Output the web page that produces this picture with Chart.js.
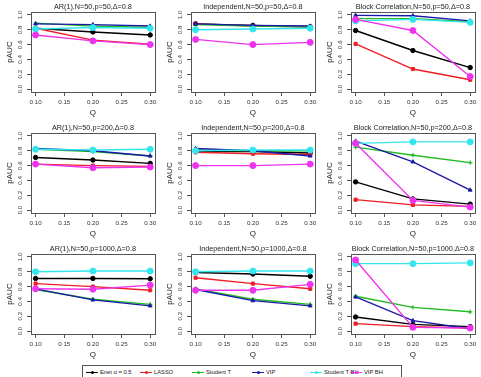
<!DOCTYPE html>
<html>
<head>
<meta charset="utf-8">
<script src="https://cdn.jsdelivr.net/npm/chart.js@4.4.1/dist/chart.umd.min.js"></script>
<style>
  html, body { margin: 0; padding: 0; background: #fff; }
  body { width: 481px; height: 377px; position: relative; overflow: hidden; font-family: "Liberation Sans", Arial, sans-serif; }
  canvas.panel { position: absolute; }
  #legend { position: absolute; left: 82px; top: 365px; width: 320px; height: 16px; border: 1px solid #555; box-sizing: border-box; }
  .item { position: absolute; top: 3px; font-size: 5.8px; color: #222; line-height: 7px; white-space: nowrap; }
  .sym { position: absolute; left: -14px; top: 0; width: 12px; height: 7px; }
  .sym .ln { position: absolute; left: 0; right: 0; top: 3px; height: 1px; }
  .sym .pt { position: absolute; left: 4.5px; top: 1.5px; width: 3.5px; height: 3.5px; border-radius: 50%; }
</style>
</head>
<body>
<div id="legend"></div>
<script>
// x values and ticks
const Q = [0.10, 0.20, 0.30];
const Q_TICKS = [0.10, 0.15, 0.20, 0.25, 0.30];
const PAUC_TICKS = [0.0, 0.2, 0.4, 0.6, 0.8, 1.0];

const METHODS = ['Enet \u03b1 = 0.5', 'LASSO', 'Student T', 'VIP', 'Student T BH', 'VIP BH'];
const COLORS = ['#000000', '#ee1c24', '#22bb22', '#1a1aa8', '#33e6ee', '#ee33ee'];
const STYLES = ['circle', 'rect', 'cross', 'triangle', 'circle', 'circle'];

// panels, row by row
const TITLES = [
    'AR(1),N=50,p=50,\u0394=0.8', 'Independent,N=50,p=50,\u0394=0.8', 'Block Correlation,N=50,p=50,\u0394=0.8',
    'AR(1),N=50,p=200,\u0394=0.8', 'Independent,N=50,p=200,\u0394=0.8', 'Block Correlation,N=50,p=200,\u0394=0.8',
    'AR(1),N=50,p=1000,\u0394=0.8', 'Independent,N=50,p=1000,\u0394=0.8', 'Block Correlation,N=50,p=1000,\u0394=0.8'
];

// pAUC per method, one [Q=0.1, 0.2, 0.3] triple per panel
const enet = [
    [0.82, 0.77, 0.73], [0.88, 0.86, 0.84], [0.79, 0.52, 0.29],
    [0.71, 0.675, 0.63], [0.79, 0.79, 0.77], [0.38, 0.15, 0.08],
    [0.71, 0.71, 0.705], [0.79, 0.77, 0.74], [0.19, 0.09, 0.06]
];
const lasso = [
    [0.82, 0.66, 0.605], [0.88, 0.85, 0.84], [0.61, 0.27, 0.125],
    [0.62, 0.60, 0.59], [0.78, 0.76, 0.75], [0.14, 0.07, 0.05],
    [0.64, 0.60, 0.55], [0.72, 0.64, 0.57], [0.10, 0.06, 0.04]
];
const studentT = [
    [0.89, 0.85, 0.83], [0.87, 0.85, 0.84], [0.95, 0.95, 0.91],
    [0.82, 0.79, 0.73], [0.81, 0.80, 0.80], [0.85, 0.74, 0.64],
    [0.56, 0.43, 0.36], [0.57, 0.43, 0.36], [0.47, 0.32, 0.26]
];
const vip = [
    [0.88, 0.87, 0.85], [0.88, 0.86, 0.85], [0.995, 0.99, 0.92],
    [0.83, 0.80, 0.73], [0.83, 0.80, 0.73], [0.93, 0.65, 0.27],
    [0.57, 0.42, 0.34], [0.56, 0.41, 0.34], [0.46, 0.14, 0.03]
];
const studentTBH = [
    [0.81, 0.83, 0.82], [0.80, 0.81, 0.82], [0.92, 0.94, 0.90],
    [0.82, 0.81, 0.82], [0.80, 0.81, 0.81], [0.90, 0.92, 0.92],
    [0.80, 0.81, 0.81], [0.80, 0.81, 0.81], [0.91, 0.91, 0.92]
];
const vipBH = [
    [0.73, 0.65, 0.60], [0.67, 0.60, 0.63], [0.94, 0.79, 0.17],
    [0.62, 0.57, 0.58], [0.60, 0.60, 0.62], [0.90, 0.13, 0.04],
    [0.57, 0.565, 0.62], [0.55, 0.55, 0.63], [0.96, 0.05, 0.04]
];
const SERIES = [enet, lasso, studentT, vip, studentTBH, vipBH];

const FONT = '"Liberation Sans", Arial, sans-serif';

// box round the plot region plus the panel title
const framePlugin = {
    id: 'frame',
    beforeDatasetsDraw(chart, args, opts) {
        const { ctx, chartArea: a } = chart;
        ctx.save();
        ctx.strokeStyle = '#555';
        ctx.lineWidth = 1;
        ctx.strokeRect(Math.round(a.left) + 0.5, Math.round(a.top) + 0.5,
            Math.round(a.right - a.left), Math.round(a.bottom - a.top));
        ctx.font = '7.25px ' + FONT;
        ctx.fillStyle = '#222';
        ctx.textAlign = 'center';
        ctx.textBaseline = 'middle';
        ctx.fillText(opts.text, (a.left + a.right) / 2, 7);
        ctx.restore();
    }
};

function makePanel(idx) {
    const col = idx % 3, row = Math.floor(idx / 3);
    const canvas = document.createElement('canvas');
    canvas.className = 'panel';
    canvas.width = 160;
    canvas.height = 121;
    canvas.style.left = (col * 160) + 'px';
    canvas.style.top = (row * 121) + 'px';
    document.body.appendChild(canvas);

    const datasets = SERIES.map((s, i) => ({
        label: METHODS[i],
        data: Q.map((q, j) => ({ x: q, y: s[idx][j] })),
        borderColor: COLORS[i],
        backgroundColor: COLORS[i],
        borderWidth: 1.4,
        pointStyle: STYLES[i],
        pointRadius: i >= 4 ? 3 : 2.2,
        pointBorderWidth: STYLES[i] === 'cross' ? 1.2 : 1,
        tension: 0,
        order: 6 - i
    }));

    new Chart(canvas, {
        type: 'line',
        data: { datasets: datasets },
        plugins: [framePlugin],
        options: {
            responsive: false,
            animation: false,
            events: [],
            layout: { padding: { top: 12, right: 5, left: 0, bottom: 0 } },
            plugins: {
                legend: { display: false },
                tooltip: { enabled: false },
                frame: { text: TITLES[idx] }
            },
            scales: {
                x: {
                    type: 'linear',
                    min: 0.092,
                    max: 0.308,
                    afterBuildTicks: (scale) => { scale.ticks = Q_TICKS.map(v => ({ value: v })); },
                    afterFit: (scale) => { scale.height = 29; },
                    border: { display: false },
                    grid: { drawOnChartArea: false, drawTicks: true, tickLength: 4, color: '#555' },
                    ticks: {
                        font: { size: 6.2, family: FONT },
                        color: '#333',
                        padding: 3,
                        maxRotation: 0,
                        autoSkip: false,
                        callback: (v) => v.toFixed(2)
                    },
                    title: { display: true, text: 'Q', font: { size: 8, family: FONT }, color: '#222', padding: { top: 0, bottom: 3 } }
                },
                y: {
                    min: -0.04,
                    max: 1.04,
                    afterBuildTicks: (scale) => { scale.ticks = PAUC_TICKS.map(v => ({ value: v })); },
                    afterFit: (scale) => { scale.width = 31; },
                    border: { display: false },
                    grid: { drawOnChartArea: false, drawTicks: true, tickLength: 4, color: '#555' },
                    ticks: {
                        font: { size: 6.2, family: FONT },
                        color: '#333',
                        padding: 2,
                        minRotation: 90,
                        maxRotation: 90,
                        crossAlign: 'center',
                        autoSkip: false,
                        callback: (v) => v.toFixed(1)
                    },
                    title: { display: true, text: 'pAUC', font: { size: 8, family: FONT }, color: '#222', padding: { top: 5, bottom: 0 } }
                }
            }
        }
    });
}

for (let i = 0; i < 9; i++) makePanel(i);

// legend strip along the bottom
const LEGEND_X = [17, 71, 123, 183, 241, 281];
const legendEl = document.getElementById('legend');
METHODS.forEach((name, i) => {
    const item = document.createElement('div');
    item.className = 'item';
    item.style.left = LEGEND_X[i] + 'px';
    item.innerHTML = '<span class="sym"><span class="ln" style="background:' + COLORS[i] + '"></span>' +
        '<span class="pt" style="background:' + COLORS[i] + '"></span></span>' + name;
    legendEl.appendChild(item);
});
</script>
</body>
</html>
